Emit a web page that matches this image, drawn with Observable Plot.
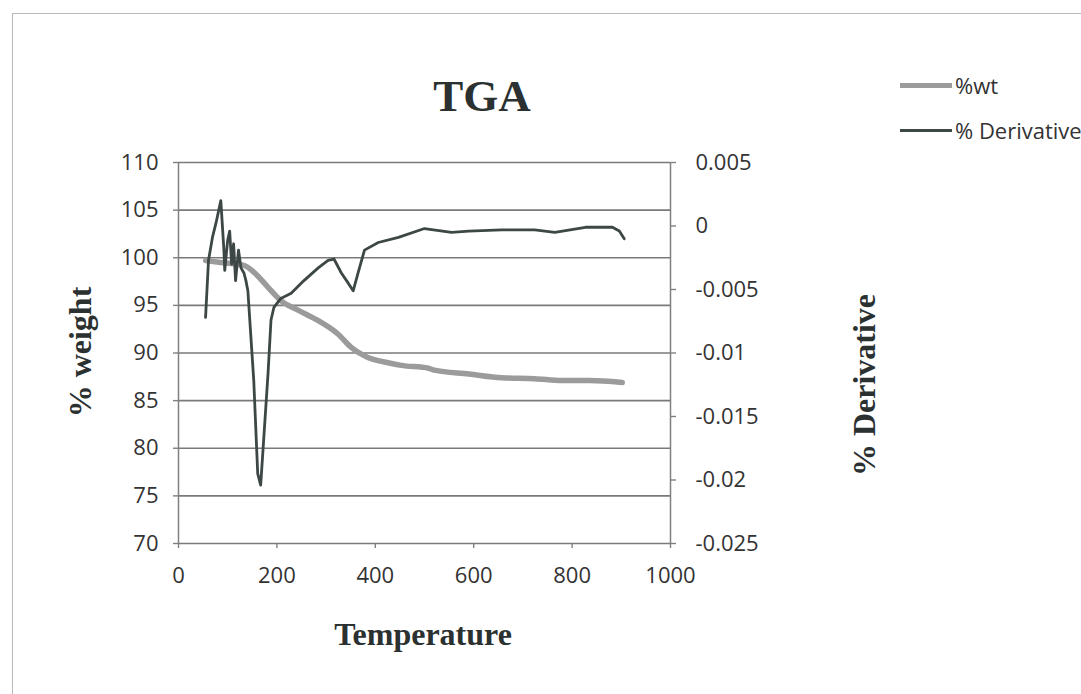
<!DOCTYPE html>
<html>
<head>
<meta charset="utf-8">
<script src="https://cdn.jsdelivr.net/npm/d3@7"></script>
<script src="https://cdn.jsdelivr.net/npm/@observablehq/plot@0.6"></script>
<style>
  html, body { margin: 0; padding: 0; background: #fff; }
  #wrap { position: relative; width: 1081px; height: 694px; overflow: hidden; background: #fff; }
  #frame { position: absolute; left: 12px; top: 13px; width: 1200px; height: 800px; border-left: 1.5px solid #b8b8b8; border-top: 1.5px solid #b8b8b8; }
  #chart { position: absolute; left: 0; top: 0; }
  .serif { position: absolute; font-family: "Liberation Serif", "Times New Roman", serif; font-weight: bold; color: #2b3130; line-height: 1; white-space: nowrap; }
  .leg { position: absolute; font-family: "Open Sans", sans-serif; font-size: 22px; color: #333; line-height: 1; white-space: nowrap; }
  .legline { position: absolute; }
</style>
</head>
<body>
<div id="wrap">
  <div id="frame"></div>
  <div id="chart"></div>
  <div class="serif" id="title" style="left:382px; width:200px; text-align:center; top:74px; font-size:45px;">TGA</div>
  <div class="serif" style="left:323px; width:200px; text-align:center; top:618px; font-size:32px;">Temperature</div>
  <div class="serif" style="left:80px; top:352px; font-size:32px; transform: translate(-50%,-50%) rotate(-90deg);">% weight</div>
  <div class="serif" style="left:864px; top:385px; font-size:32px; transform: translate(-50%,-50%) rotate(-90deg);">% Derivative</div>
  <div class="legline" style="left:900px; top:83px; width:52px; height:5px; background:#9b9b9b;"></div>
  <div class="leg" style="left:955px; top:74px;">%wt</div>
  <div class="legline" style="left:900px; top:129px; width:52px; height:2.5px; background:#3d4846;"></div>
  <div class="leg" style="left:955px; top:119px;">% Derivative</div>
</div>
<script>
// ---- data ----
const wtTemp = [55, 86, 133, 153, 182, 208, 243, 284, 324, 351, 378, 433, 453, 508, 520, 590, 657, 724, 780, 835, 902];
const wtVal  = [99.7, 99.5, 99.2, 98.5, 96.9, 95.5, 94.5, 93.4, 92.0, 90.6, 89.7, 88.9, 88.7, 88.4, 88.2, 87.8, 87.4, 87.3, 87.1, 87.1, 86.9];

const derivTemp = [55, 61, 69, 76, 86, 92, 94, 100, 104, 108, 112, 116, 122, 127, 133, 137, 141, 153, 161, 167, 173, 182, 188, 194, 208, 229, 255, 284, 304, 316, 331, 345, 355, 365, 378, 406, 447, 500, 555, 590, 657, 724, 765, 827, 882, 896, 906];
const derivVal  = [-0.0072, -0.0027, -0.0009, 0.0002, 0.0020, -0.0017, -0.0035, -0.0011, -0.0004, -0.0030, -0.0014, -0.0043, -0.0019, -0.0033, -0.0037, -0.0043, -0.0051, -0.0122, -0.0195, -0.0204, -0.0169, -0.0116, -0.0074, -0.0064, -0.0057, -0.0053, -0.0043, -0.0033, -0.0027, -0.0026, -0.0037, -0.0045, -0.0051, -0.0037, -0.0019, -0.0013, -0.0009, -0.0002, -0.0005, -0.0004, -0.0003, -0.0003, -0.0005, -0.0001, -0.0001, -0.0004, -0.0010];

const xTicks = [0, 200, 400, 600, 800, 1000];
const wtTicks = [70, 75, 80, 85, 90, 95, 100, 105, 110];
const derivTicks = [0.005, 0, -0.005, -0.01, -0.015, -0.02, -0.025];
const derivLabels = ["0.005", "0", "-0.005", "-0.01", "-0.015", "-0.02", "-0.025"];

// ---- build tables ----
const wtData = wtTemp.map((t, i) => ({t, v: wtVal[i]}));
const derivData = derivTemp.map((t, i) => ({t, v: derivVal[i]}));

// secondary axis: derivative domain [-0.025, 0.005] mapped onto the weight domain [70, 110]
const dMin = -0.025, dMax = 0.005, wMin = 70, wMax = 110;
const toLeft = v => wMin + (v - dMin) / (dMax - dMin) * (wMax - wMin);
const derivTickPos = derivTicks.map(toLeft);
const derivFmt = d => {
  const i = derivTickPos.findIndex(p => Math.abs(p - d) < 1e-6);
  return i >= 0 ? derivLabels[i] : "";
};

const axisColor = "#808080";
const plot = Plot.plot({
  width: 1081,
  height: 694,
  marginTop: 162,
  marginBottom: 151,
  marginLeft: 178,
  marginRight: 411,
  x: {domain: [0, 1000]},
  y: {domain: [wMin, wMax]},
  style: {fontFamily: "'Open Sans', sans-serif", fontSize: "22px", color: "#333", background: "transparent", overflow: "visible"},
  marks: [
    Plot.gridY(wtTicks, {stroke: "#7a7a7a", strokeOpacity: 1, strokeWidth: 1.6}),
    Plot.axisY(wtTicks, {anchor: "left", tickSize: 5, tickPadding: 15, tickFormat: d => String(d), label: null, stroke: axisColor, strokeWidth: 1.4}),
    Plot.axisY(derivTickPos, {anchor: "right", tickSize: 5, tickPadding: 20, tickFormat: derivFmt, textAnchor: "start", label: null, stroke: axisColor, strokeWidth: 1.4}),
    Plot.axisX(xTicks, {anchor: "bottom", tickSize: 5, tickPadding: 19, tickFormat: d => String(d), label: null, stroke: axisColor, strokeWidth: 1.4}),
    Plot.ruleX([0, 1000], {stroke: axisColor, strokeWidth: 1.5}),
    Plot.line(wtData, {x: "t", y: "v", stroke: "#9b9b9b", strokeWidth: 5.5, curve: "monotone-x"}),
    Plot.line(derivData, {x: "t", y: d => toLeft(d.v), stroke: "#3d4846", strokeWidth: 2.8, strokeLinejoin: "round"})
  ]
});
document.getElementById("chart").appendChild(plot);
</script>
</body>
</html>
